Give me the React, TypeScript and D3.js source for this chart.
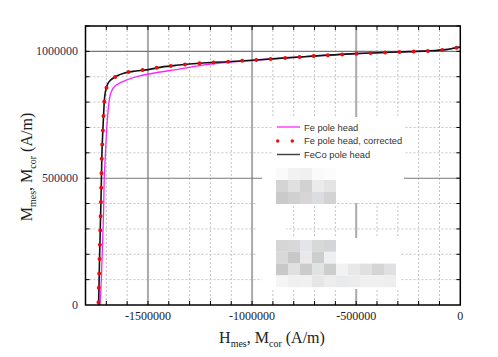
import React from "react";
import * as d3 from "d3";

const feCoH = [-1737000, -1732000, -1726000, -1721000, -1716000, -1712000, -1708000, -1702000, -1692000, -1680000, -1668000, -1645000, -1620000, -1572000, -1500000, -1436000, -1364000, -1236000, -1100000, -1000000, -750000, -500000, -250000, -150000, -70000, 0];
const feCoM = [0, 200000, 400000, 600000, 700000, 770000, 820000, 850000, 874000, 886000, 894000, 905000, 913000, 921000, 928000, 938000, 945000, 954000, 960000, 965000, 979000, 991000, 999000, 1002000, 1007000, 1017000];

const feCorH = [-1738000, -1732000, -1726000, -1721000, -1716000, -1712000, -1707000, -1701000, -1690000, -1678000, -1665000, -1642000, -1618000, -1570000, -1500000, -1436000, -1364000, -1236000, -1100000, -1000000, -750000, -500000, -250000, -150000, -70000, 0];
const feCorM = [0, 200000, 400000, 600000, 700000, 770000, 822000, 852000, 875000, 887000, 895000, 906000, 914000, 922000, 929000, 938000, 945000, 954000, 960000, 965000, 979000, 991000, 999000, 1002000, 1007000, 1017000];

const feH = [-1730000, -1724000, -1719000, -1713000, -1710000, -1706000, -1702000, -1697000, -1692000, -1688000, -1682000, -1676000, -1665000, -1652000, -1630000, -1604000, -1540000, -1460000, -1364000, -1236000, -1100000, -1000000, -750000, -500000, -250000, -150000, -70000, 0];
const feM = [0, 100000, 217000, 374000, 500000, 570000, 637000, 709000, 760000, 795000, 825000, 841000, 857000, 867000, 878000, 887000, 903000, 916000, 928000, 946000, 958000, 964000, 979000, 991000, 999000, 1002000, 1007000, 1017000];

const xTickValues = [-1500000, -1000000, -500000, 0];
const yTickValues = [0, 500000, 1000000];
const legendLabels = ["Fe pole head", "Fe pole head, corrected", "FeCo pole head"];

// pixelated (obscured) block grays, rows of 12px cells
const blockRowsTop = [
  ["#fafafa", "#f2f2f2", "#f0f0f0", "#fafafa", "#fcfcfc"],
  ["#d4d4d4", "#e0e0e0", "#d2d2d2", "#ebebeb", "#e4e4e4"],
  ["#cacaca", "#d0d0d0", "#d8d5d5", "#dcdde0", "#d3d3d3"],
];
const blockRowsBottom = [
  ["#d6d6d6", "#d8d8d8", "#e3e5e8", "#d8d8d8", "#d4d5d8"],
  ["#d8d8d8", "#c8c8c8", "#e8e8e8", "#cdcdcd", "#eeeff2"],
  ["#c8c8c8", "#e0e0e0", "#cbcbcb", "#e0e3e3", "#cdcdcd", "#f2f2f2", "#e8e8e8", "#e0e0e0", "#d5d5d5", "#e0e0e3"],
  ["#f5f5f5", "#efefef", "#f0f0f0", "#e6e6e6", "#ededed", "#e8eaec", "#ececec", "#f0f0f0", "#f0f0f0", "#eeeeee"],
];

export default function App() {
  const W = 498, H = 357;
  const L = 85.5, R = 460.3, T = 26, B = 305;
  const x = d3.scaleLinear().domain([-1800000, 0]).range([L, R]);
  const y = d3.scaleLinear().domain([0, 1100000]).range([B, T]);

  const line = d3
    .line<[number, number]>()
    .x((d) => x(d[0]))
    .y((d) => y(d[1]))
    .curve(d3.curveCatmullRom.alpha(0.5));

  const zip = (a: number[], b: number[]) => a.map((v, i) => [v, b[i]] as [number, number]);

  const minorX = d3.range(-1700000, 0, 100000).filter((v) => v % 500000 !== 0);
  const minorY = d3.range(100000, 1100001, 100000).filter((v) => v % 500000 !== 0);
  const allX = d3.range(-1700000, 0, 100000);
  const allY = d3.range(100000, 1100001, 100000);

  const serif = "'Liberation Serif', 'Times New Roman', serif";
  const sans = "'Liberation Sans', Arial, sans-serif";

  return (
    <svg width={W} height={H} style={{ position: "absolute", left: 0, top: 0, background: "#fff" }}>
      <rect x={0} y={0} width={W} height={H} fill="#fff" />
      {/* minor grid */}
      {minorX.map((v) => (
        <line key={"mx" + v} x1={x(v)} x2={x(v)} y1={T} y2={B} stroke="#c4c4c4" strokeWidth={1} strokeDasharray="2,2" />
      ))}
      {minorY.map((v) => (
        <line key={"my" + v} x1={L} x2={R} y1={y(v)} y2={y(v)} stroke="#c4c4c4" strokeWidth={1} strokeDasharray="2,2" />
      ))}
      {/* major grid */}
      {[-1500000, -1000000, -500000].map((v) => (
        <line key={"Mx" + v} x1={x(v)} x2={x(v)} y1={T} y2={B} stroke="#aaaaaa" strokeWidth={2} />
      ))}
      {[500000, 1000000].map((v) => (
        <line key={"My" + v} x1={L} x2={R} y1={y(v)} y2={y(v)} stroke="#777777" strokeWidth={1.1} />
      ))}

      {/* curves */}
      <path d={line(zip(feH, feM)) || ""} fill="none" stroke="#ff22ff" strokeWidth={1.3} />
      <path d={line(zip(feCoH, feCoM)) || ""} fill="none" stroke="#111" strokeWidth={1.6} />
      <path
        d={line(zip(feCorH, feCorM)) || ""}
        fill="none"
        stroke="#e01010"
        strokeWidth={4}
        strokeLinecap="round"
        strokeDasharray="0 14.3"
        strokeDashoffset={-3}
      />

      {/* white obscured region */}
      <g fill="#fff">
        <rect x={272} y={117} width={132} height={86} />
        <rect x={262} y={166} width={24} height={122} rx={10} />
        <rect x={257} y={190} width={20} height={90} rx={8} />
        <rect x={262} y={238} width={138} height={51} rx={4} />
      </g>
      <g>
        {blockRowsTop.map((row, ri) =>
          row.map((c, ci) => <rect key={"bt" + ri + "-" + ci} x={276 + ci * 12} y={168 + ri * 12} width={12} height={12} fill={c} />)
        )}
        {blockRowsBottom.map((row, ri) =>
          row.map((c, ci) => <rect key={"bb" + ri + "-" + ci} x={276 + ci * 12} y={240 + ri * 11.8} width={12} height={11.8} fill={c} />)
        )}
      </g>

      {/* legend */}
      <g fontFamily={sans} fontSize={9.3} fill="#333">
        <line x1={277} x2={300} y1={127} y2={127} stroke="#ff44ff" strokeWidth={1.5} />
        <line x1={277.7} x2={292.5} y1={141} y2={141} stroke="#ee1111" strokeWidth={3.5} strokeLinecap="round" strokeDasharray="0 14.6" />
        <line x1={277} x2={300} y1={154.5} y2={154.5} stroke="#444" strokeWidth={1.5} />
        {legendLabels.map((t, i) => (
          <text key={t} x={304} y={130.5 + i * 13.7}>
            {t}
          </text>
        ))}
      </g>

      {/* ticks */}
      <g stroke="#000" strokeWidth={1}>
        {allY.map((v) => (
          <g key={"ty" + v}>
            <line x1={L} x2={L + 4} y1={y(v)} y2={y(v)} />
            <line x1={R - 4} x2={R} y1={y(v)} y2={y(v)} />
          </g>
        ))}
        {allX.map((v) => (
          <g key={"tx" + v}>
            <line x1={x(v)} x2={x(v)} y1={B} y2={B - 4} />
            <line x1={x(v)} x2={x(v)} y1={T} y2={T + 4} />
          </g>
        ))}
      </g>
      {/* frame */}
      <rect x={L} y={T} width={R - L} height={B - T} fill="none" stroke="#000" strokeWidth={1.5} />

      {/* tick labels */}
      <g fontFamily={serif} fontSize={12} fill="#1f2d5c">
        {yTickValues.map((v) => (
          <text key={"yl" + v} x={78} y={y(v) + 4} textAnchor="end">
            {String(v)}
          </text>
        ))}
      </g>
      <g fontFamily={serif} fontSize={12} fill="#1a1a2a">
        {xTickValues.map((v) => (
          <text key={"xl" + v} x={x(v)} y={320} textAnchor="middle">
            {String(v)}
          </text>
        ))}
      </g>

      {/* axis titles */}
      <text x={272} y={343} textAnchor="middle" fontFamily={serif} fontSize={16} fill="#222">
        H<tspan fontSize={10} dy={4}>mes</tspan>
        <tspan dy={-4}>, M</tspan>
        <tspan fontSize={10} dy={4}>cor</tspan>
        <tspan dy={-4}> (A/m)</tspan>
      </text>
      <text
        transform="translate(32,167) rotate(-90)"
        textAnchor="middle"
        fontFamily={serif}
        fontSize={16}
        fill="#222"
      >
        M<tspan fontSize={10} dy={4}>mes</tspan>
        <tspan dy={-4}>, M</tspan>
        <tspan fontSize={10} dy={4}>cor</tspan>
        <tspan dy={-4}> (A/m)</tspan>
      </text>
    </svg>
  );
}
